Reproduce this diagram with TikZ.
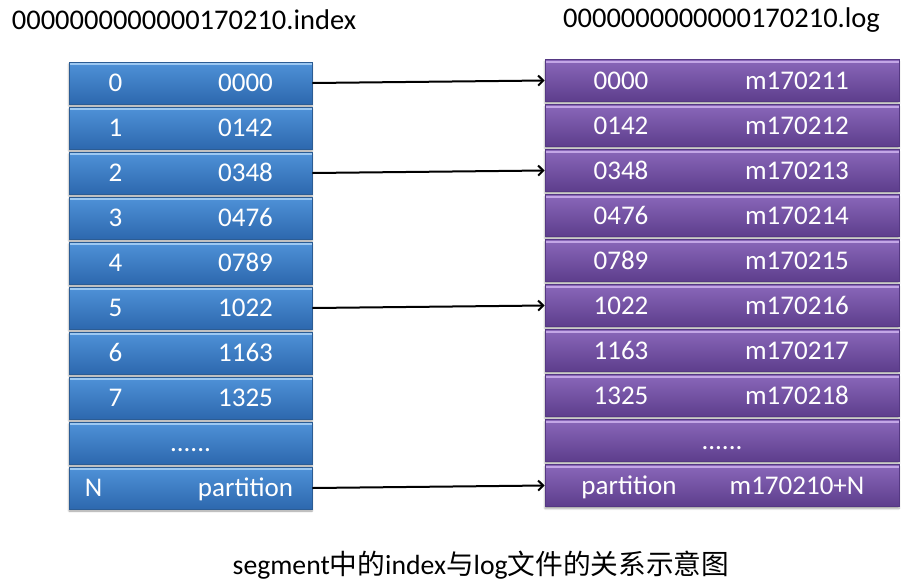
\documentclass[tikz,border=0pt]{standalone}
\usepackage{fontspec}
\setmainfont{Carlito}
\newfontfamily\cjk{Noto Sans CJK SC}
\usepackage{xcolor}
\definecolor{idxTop}{HTML}{4F92D8}
\definecolor{idxBot}{HTML}{2D68AE}
\definecolor{idxEdge}{HTML}{2B5C94}
\definecolor{idxGlow}{HTML}{9CC8F2}
\definecolor{logTop}{HTML}{8A67BA}
\definecolor{logBot}{HTML}{5D3D8C}
\definecolor{logEdge}{HTML}{553883}
\definecolor{logGlow}{HTML}{C3A6E6}
\usepackage{tikz}
\usetikzlibrary{
  arrows.meta,
  shadows.blur
}
\tikzset{
  celltxt/.style={
    text=white,inner sep=0pt,
    text height=17pt,text depth=0pt,
    font=\fontsize{27}{30}\selectfont
  },
  idxbox/.style 2 args={
    rectangle,draw=idxEdge,line width=0.8pt,
    top color=idxTop,bottom color=idxBot,
    minimum width=243pt,minimum height=42pt,
    blur shadow={shadow xshift=0pt,shadow yshift=-2pt,shadow blur steps=4},
    path picture={\draw[idxGlow,line width=2pt]
      ([yshift=-2pt]path picture bounding box.north west) --
      ([yshift=-2pt]path picture bounding box.north east);},
    label={[celltxt,xshift=-75pt]center:#1},
    label={[celltxt,xshift=55pt]center:#2}
  },
  logbox/.style 2 args={
    rectangle,draw=logEdge,line width=0.8pt,
    top color=logTop,bottom color=logBot,
    minimum width=354pt,minimum height=42pt,
    blur shadow={shadow xshift=0pt,shadow yshift=-2pt,shadow blur steps=4},
    path picture={\draw[logGlow,line width=2pt]
      ([yshift=-2pt]path picture bounding box.north west) --
      ([yshift=-2pt]path picture bounding box.north east);},
    label={[celltxt,xshift=-101pt]center:#1},
    label={[celltxt,xshift=75pt]center:#2}
  },
  filename/.style={font=\fontsize{28.5}{32}\selectfont,inner sep=0pt},
  captext/.style={font=\fontsize{27.7}{32}\selectfont,inner sep=0pt},
  link/.style={-{Straight Barb[length=5pt,width=10pt]},line width=2pt,color=black}
}

\begin{document}
\begin{tikzpicture}[x=1pt,y=-1pt]
\useasboundingbox (0,0) rectangle (917,587);

\node[filename] (idxname) at (184,20)    {0000000000000170210.index};
\node[filename] (logname) at (721.5,20)  {0000000000000170210.log};

\node[idxbox={0}{0000}]      (idx0) at (190.5,83)  {};
\node[idxbox={1}{0142}]      (idx1) at (190.5,128) {};
\node[idxbox={2}{0348}]      (idx2) at (190.5,173) {};
\node[idxbox={3}{0476}]      (idx3) at (190.5,218) {};
\node[idxbox={4}{0789}]      (idx4) at (190.5,263) {};
\node[idxbox={5}{1022}]      (idx5) at (190.5,308) {};
\node[idxbox={6}{1163}]      (idx6) at (190.5,353) {};
\node[idxbox={7}{1325}]      (idx7) at (190.5,398) {};
\node[idxbox={}{},label={[celltxt]center:......}] (idxD) at (190.5,443) {};
\node[idxbox={}{partition},label={[celltxt,xshift=-97pt]center:N}] (idxN) at (190.5,488) {};

\node[logbox={0000}{m170211}]  (log0) at (722,80.5)  {};
\node[logbox={0142}{m170212}]  (log1) at (722,125.5) {};
\node[logbox={0348}{m170213}]  (log2) at (722,170.5) {};
\node[logbox={0476}{m170214}]  (log3) at (722,215.5) {};
\node[logbox={0789}{m170215}]  (log4) at (722,260.5) {};
\node[logbox={1022}{m170216}]  (log5) at (722,305.5) {};
\node[logbox={1163}{m170217}]  (log6) at (722,350.5) {};
\node[logbox={1325}{m170218}]  (log7) at (722,395.5) {};
\node[logbox={}{},label={[celltxt]center:......}] (logD) at (722,440.5) {};
\node[logbox={}{m170210+N},label={[celltxt,xshift=-93pt]center:partition}] (logN) at (722,485.5) {};

\node[captext] (caption) at (481,565) {segment{\cjk 中的}index{\cjk 与}log{\cjk 文件的关系示意图}};

\draw[link] (idx0.east) -- (log0.west);
\draw[link] (idx2.east) -- (log2.west);
\draw[link] (idx5.east) -- (log5.west);
\draw[link] (idxN.east) -- (logN.west);

\end{tikzpicture}
\end{document}
